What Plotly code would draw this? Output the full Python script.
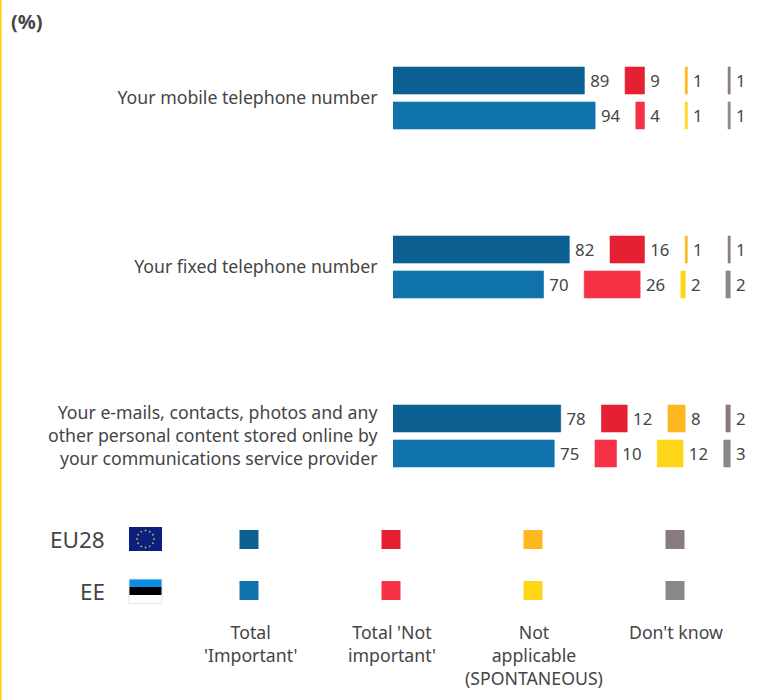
import math
import plotly.graph_objects as go

W, H = 768, 700

categories = ["Your mobile telephone number", "Your fixed telephone number",
              "Your e-mails, contacts, photos and any<br>other personal content stored online by<br>your communications service provider"]
response_names = ["Total 'Important'", "Total 'Not important'", "Not applicable (SPONTANEOUS)", "Don't know"]
legend_labels = ["Total<br>'Important'", "Total 'Not<br>important'", "Not<br>applicable<br>(SPONTANEOUS)", "Don't know"]

eu28_important = [89, 82, 78]
eu28_not_important = [9, 16, 12]
eu28_not_applicable = [1, 1, 8]
eu28_dont_know = [1, 1, 2]

ee_important = [94, 70, 75]
ee_not_important = [4, 26, 10]
ee_not_applicable = [1, 2, 12]
ee_dont_know = [1, 2, 3]

eu28_colors = ["#0B5F91", "#E52033", "#FDB71F", "#8A797F"]
ee_colors = ["#0F72AC", "#F73246", "#FFD617", "#888888"]

PX_PER_UNIT = 2.15
GAP_UNITS = 18.95
TEXT = "#454545"
FONT = "Noto Sans"

AX_LEFT, AX_TOP, AX_BOTTOM = 393, 13.5, 520.5


def px(x):
    return x / W


def py(y):
    return 1 - y / H


fig = go.Figure()

series = [("EU28", [eu28_important, eu28_not_important, eu28_not_applicable, eu28_dont_know], eu28_colors),
          ("EE", [ee_important, ee_not_important, ee_not_applicable, ee_dont_know], ee_colors)]
for name, cols, colors in series:
    bases = [0.0] * len(categories)
    for resp, vals, color in zip(response_names, cols, colors):
        fig.add_trace(go.Bar(
            name=f"{name} {resp}", y=categories, x=vals, base=bases, orientation="h",
            offsetgroup=name, marker=dict(color=color, line=dict(color=color, width=0.6)),
            text=[f"\u2009{v}" for v in vals], textposition="outside", cliponaxis=False,
            textfont=dict(family=FONT, size=16.8, color=TEXT), showlegend=False,
        ))
        bases = [b + v + GAP_UNITS for b, v in zip(bases, vals)]

shapes = [dict(type="rect", xref="paper", yref="paper", x0=0, x1=px(1.5), y0=0, y1=1,
               fillcolor="#FFCC00", line_width=0)]
annotations = []


def rect(x0, y0, x1, y1, color):
    shapes.append(dict(type="rect", xref="paper", yref="paper", x0=px(x0), x1=px(x1),
                       y0=py(y1), y1=py(y0), fillcolor=color, line_width=0, layer="above"))


def label(x, y, text, anchor="center", size=18, bold=False):
    annotations.append(dict(xref="paper", yref="paper", x=px(x), y=py(y), text=f"<b>{text}</b>" if bold else text,
                            showarrow=False, xanchor=anchor, yanchor="middle", align=anchor,
                            font=dict(family=FONT, size=size, color=TEXT)))


label(9, 21, "(%)", "left", 20, True)
label(107, 539, "EU28", "right", 22.5)
label(107, 591, "EE", "right", 22.5)

# EU flag
rect(129, 527, 162, 551, "#0A1F80")
for i in range(12):
    a = 2 * math.pi * i / 12
    cx, cy = 145.5 + 8.5 * math.cos(a), 539 + 8.5 * math.sin(a)
    shapes.append(dict(type="circle", xref="paper", yref="paper", x0=px(cx - 0.9), x1=px(cx + 0.9),
                       y0=py(cy + 0.9), y1=py(cy - 0.9), fillcolor="#C9B52A", line_width=0))
# EE flag
rect(129, 579, 162, 587, "#0A8FE6")
rect(129, 587, 162, 595, "#000000")
rect(129, 595, 162, 603.5, "#FFFFFF")
shapes.append(dict(type="rect", xref="paper", yref="paper", x0=px(129), x1=px(162), y0=py(603.5), y1=py(579),
                   line=dict(color="#E4E4E4", width=1), fillcolor="rgba(0,0,0,0)"))

legend_x = [249, 391, 533, 675]
for x, c1, c2, text in zip(legend_x, eu28_colors, ee_colors, legend_labels):
    rect(x - 9.5, 530, x + 9.5, 549, c1)
    rect(x - 9.5, 581, x + 9.5, 600, c2)
    annotations.append(dict(xref="paper", yref="paper", x=px(x + 1), y=py(618), text=text, showarrow=False,
                            xanchor="center", yanchor="top", align="center",
                            font=dict(family=FONT, size=17.7, color=TEXT)))

fig.update_layout(
    width=W, height=H, margin=dict(l=0, r=0, t=0, b=0), autosize=False,
    paper_bgcolor="white", plot_bgcolor="white",
    barmode="group", bargap=0.586, bargroupgap=0.229,
    xaxis=dict(domain=[px(AX_LEFT), 1], range=[0, (W - AX_LEFT) / PX_PER_UNIT], visible=False),
    yaxis=dict(domain=[py(AX_BOTTOM), py(AX_TOP)], autorange=False, range=[2.5, -0.5],
               type="category", categoryorder="array", categoryarray=categories,
               showline=False, showgrid=False, zeroline=False, ticks="outside", ticklen=11,
               tickcolor="rgba(0,0,0,0)", tickfont=dict(family=FONT, size=17.7, color=TEXT)),
    shapes=shapes, annotations=annotations, font=dict(family=FONT),
)

fig.write_html("out.html", config={"displayModeBar": False}, post_script="document.body.style.margin='0';")
